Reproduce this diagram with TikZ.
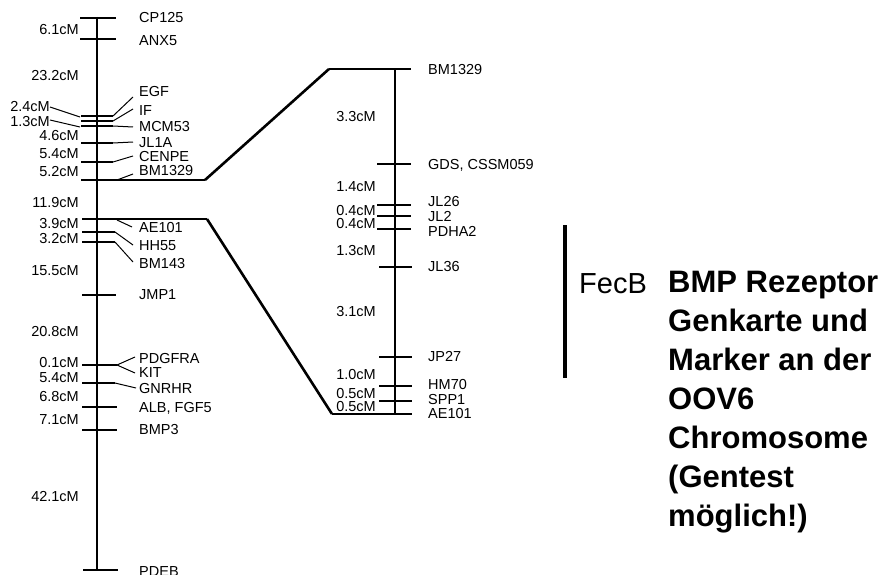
\documentclass[tikz,border=0pt]{standalone}
\usepackage{fontspec}
\setmainfont{Liberation Sans}
\begin{document}
\begin{tikzpicture}[x=1pt,y=-1pt,
  lab/.style={font=\fontsize{14.5}{16}\selectfont, inner sep=0pt},
  dist/.style={lab, anchor=east},
  mk/.style={lab, anchor=west},
  chrom/.style={line width=2pt},
  tick/.style={line width=1.4pt},
  link/.style={line width=2.6pt, line join=miter},
  thin/.style={line width=1pt}]
\useasboundingbox (0,0) rectangle (888,575);

% ---------------- left chromosome ----------------
\draw[chrom] (97,17) -- (97,571);
\draw[tick] (80,18) -- (116,18);
\draw[tick] (80,39) -- (116,39);
\draw[tick] (81,116) -- (113,116);
\draw[thin] (113,116) -- (133,97);
\draw[tick] (81,121) -- (113,121);
\draw[thin] (113,121) -- (133,109);
\draw[tick] (81,126) -- (113,126);
\draw[thin] (113,126) -- (133,127);
\draw[tick] (81,143) -- (113,143);
\draw[thin] (113,143) -- (133,142);
\draw[tick] (81,162) -- (113,162);
\draw[thin] (113,162) -- (133,156);
\draw[thin] (117,180) -- (133,174);
\draw[thin] (50,107) -- (80,117);
\draw[thin] (50,120) -- (80,127);

\draw[thin] (117,220) -- (132,227);
\draw[tick] (82,232) -- (115,232);
\draw[thin] (115,232) -- (133,245);
\draw[tick] (82,242) -- (115,242);
\draw[thin] (115,242) -- (133,262);
\draw[tick] (82,295) -- (116,295);
\draw[tick] (82,365) -- (117,365);
\draw[thin] (117,365) -- (135,357);
\draw[thin] (117,365) -- (135,373);
\draw[tick] (82,383) -- (115,383);
\draw[thin] (115,383) -- (136,388);
\draw[tick] (82,407) -- (117,407);
\draw[tick] (82,430) -- (117,430);
\draw[tick] (83,570) -- (118,570);

% marker names (left)
\node[mk] (cp125) at (139,18) {CP125};
\node[mk] (anx5) at (139,41) {ANX5};
\node[mk] (egf) at (139,92) {EGF};
\node[mk] (if) at (139,111) {IF};
\node[mk] (mcm53) at (139,127) {MCM53};
\node[mk] (jl1a) at (139,143) {JL1A};
\node[mk] (cenpe) at (139,157) {CENPE};
\node[mk] (bmA) at (139,171) {BM1329};
\node[mk] (ae101a) at (139,228) {AE101};
\node[mk] (hh55) at (139,246) {HH55};
\node[mk] (bm143) at (139,264) {BM143};
\node[mk] (jmp1) at (139,295) {JMP1};
\node[mk] (pdgfra) at (139,359) {PDGFRA};
\node[mk] (kit) at (139,373) {KIT};
\node[mk] (gnrhr) at (139,389) {GNRHR};
\node[mk] (alb) at (139,408) {ALB, FGF5};
\node[mk] (bmp3) at (139,430) {BMP3};
\node[mk] (pdeb) at (139,572) {PDEB};

% distances (left)
\node[dist] (d1) at (79,30) {6.1cM};
\node[dist] (d2) at (79,76) {23.2cM};
\node[dist] (d3) at (50,107) {2.4cM};
\node[dist] (d4) at (50,122) {1.3cM};
\node[dist] (d5) at (79,136) {4.6cM};
\node[dist] (d6) at (79,154) {5.4cM};
\node[dist] (d7) at (79,172) {5.2cM};
\node[dist] (d8) at (79,203) {11.9cM};
\node[dist] (d9) at (79,224) {3.9cM};
\node[dist] (d10) at (79,239) {3.2cM};
\node[dist] (d11) at (79,271) {15.5cM};
\node[dist] (d12) at (79,332) {20.8cM};
\node[dist] (d13) at (79,363) {0.1cM};
\node[dist] (d14) at (79,378) {5.4cM};
\node[dist] (d15) at (79,397) {6.8cM};
\node[dist] (d16) at (79,420) {7.1cM};
\node[dist] (d17) at (79,497) {42.1cM};

% ---------------- connectors ----------------
\coordinate (lBM) at (81,180);
\coordinate (kBM) at (205,180);
\coordinate (rBMk) at (329,69);
\coordinate (rBM) at (411,69);
\coordinate (lAE) at (82,219);
\coordinate (kAE) at (207,219);
\coordinate (rAEk) at (332,414);
\coordinate (rAE) at (412,414);
\draw[tick] (lBM) -- (kBM);
\draw[link] (kBM) -- (rBMk);
\draw[tick] (rBMk) -- (rBM);
\draw[tick] (lAE) -- (kAE);
\draw[link] (kAE) -- (rAEk);
\draw[tick] (rAEk) -- (rAE);

% ---------------- right chromosome ----------------
\draw[chrom] (395,69) -- (395,414);
\draw[tick] (377,164) -- (411,164);
\draw[tick] (377,205) -- (411,205);
\draw[tick] (377,216) -- (411,216);
\draw[tick] (377,229) -- (411,229);
\draw[tick] (379,267) -- (412,267);
\draw[tick] (379,357) -- (412,357);
\draw[tick] (379,386) -- (412,386);
\draw[tick] (379,401) -- (412,401);

\node[mk] (bmB) at (428,70) {BM1329};
\node[mk] (gds) at (428,165) {GDS, CSSM059};
\node[mk] (jl26) at (428,202) {JL26};
\node[mk] (jl2) at (428,217) {JL2};
\node[mk] (pdha2) at (428,231) {PDHA2};
\node[mk] (jl36) at (428,267) {JL36};
\node[mk] (jp27) at (428,357) {JP27};
\node[mk] (hm70) at (428,385) {HM70};
\node[mk] (spp1) at (428,400) {SPP1};
\node[mk] (ae101b) at (428,414) {AE101};

\node[dist] (e1) at (376,117) {3.3cM};
\node[dist] (e2) at (376,187) {1.4cM};
\node[dist] (e3) at (376,211) {0.4cM};
\node[dist] (e4) at (376,224) {0.4cM};
\node[dist] (e5) at (376,251) {1.3cM};
\node[dist] (e6) at (376,312) {3.1cM};
\node[dist] (e7) at (376,375) {1.0cM};
\node[dist] (e8) at (376,394) {0.5cM};
\node[dist] (e9) at (376,407) {0.5cM};

% ---------------- FecB ----------------
\draw[line width=4pt] (565,225) -- (565,378);
\node[inner sep=0pt, anchor=base west, font=\fontsize{29}{34}\selectfont] (fecb) at (579,293) {FecB};
\node[inner sep=0pt, anchor=north west, align=left,
      font=\fontsize{31}{39}\selectfont\bfseries] (desc) at (668,271)
  {BMP Rezeptor\\Genkarte und\\Marker an der\\OOV6\\Chromosome\\(Gentest\\möglich!)};
\end{tikzpicture}
\end{document}
